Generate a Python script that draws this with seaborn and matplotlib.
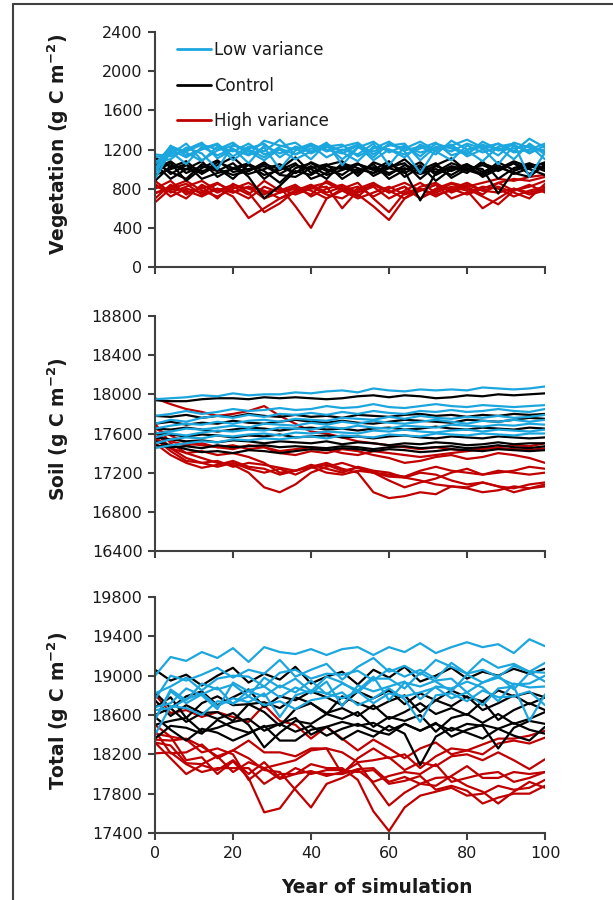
import numpy as np
import pandas as pd
import seaborn as sns
import matplotlib.pyplot as plt
from matplotlib.lines import Line2D

# years sampled every 4 years
years = list(range(0, 101, 4))

groups = ['Low variance', 'Control', 'High variance']
colors = {'Low variance': '#1CA6DE', 'Control': '#000000', 'High variance': '#C00000'}

# vegetation carbon (g C m-2), 8 runs per group
veg_low = [
    [1050,1230,1180,1250,1200,1270,1150,1290,1240,1200,1260,1180,1230,1270,1150,1250,1210,1280,1190,1240,1300,1220,1260,1180,1310,1220],
    [980,1200,1120,1210,1260,1130,1230,1180,1300,1150,1210,1240,1100,1220,1280,1170,1240,1130,1260,1210,1150,1280,1200,1250,1160,1240],
    [1120,1150,1260,1090,1190,1240,1200,1120,1230,1270,1160,1230,1190,1250,1120,1260,1190,1230,1150,1290,1200,1230,1140,1270,1220,1180],
    [900,1180,1050,1230,1140,1210,1060,1240,1160,1220,1100,1260,1170,1080,1230,1200,1120,1250,1180,1090,1240,1170,1220,1100,1260,1150],
    [1080,1100,1220,1160,1000,1250,1180,1090,1210,1150,1240,1120,1200,1150,1260,1040,1230,1170,1210,1250,1130,1200,1260,1170,1200,1260],
    [1000,1240,1140,1200,1250,1090,1210,1260,1120,1230,1180,1270,1040,1220,1180,1240,1260,1090,1230,1180,1260,1210,1050,1240,1180,1200],
    [1150,1130,1200,1270,1110,1200,1140,1220,1000,1190,1250,1200,1160,1240,1090,1200,1150,1210,1270,1140,1190,1080,1230,1260,920,1170],
    [950,1210,1170,1080,1230,1180,1260,1150,1200,1100,1180,1230,1250,1130,1210,1280,1180,960,1200,1230,1160,1250,1190,1210,1240,1100],
]
veg_control = [
    [1120,1020,1080,950,1040,1120,980,1050,1000,1120,960,1040,1080,930,1070,1010,1100,960,1040,1110,980,1060,1000,1080,1020,1060],
    [1050,900,1000,1080,920,1010,1060,900,1020,960,1070,1000,940,1050,990,1080,920,1020,970,1060,1010,950,1070,990,1040,980],
    [980,1060,880,1010,1090,970,1000,1030,950,1040,1000,900,1060,1010,960,1020,1060,900,1030,980,1050,920,1000,1060,950,1030],
    [1100,950,1040,980,1010,900,1050,980,860,1010,1060,980,1020,960,1050,900,990,1070,940,1020,960,1080,900,1010,1060,1000],
    [1000,1080,960,1030,980,1060,920,700,830,980,940,1030,1000,1060,930,1010,960,1040,880,1000,1050,970,1040,950,1010,1070],
    [940,1000,1050,900,960,1000,1040,940,990,1060,900,960,1040,980,1020,960,1010,950,1000,940,1030,1000,750,980,1040,1010],
    [1060,970,900,1050,1000,940,980,1070,940,920,1010,1050,900,1000,960,1050,980,680,960,1030,990,940,1020,960,920,1050],
    [880,1030,1000,960,1070,1010,950,1000,1050,960,1030,940,990,1050,1000,940,1040,990,1060,910,1000,1040,980,1060,1000,940],
]
veg_high = [
    [850,720,800,760,850,780,700,820,760,800,740,880,800,720,850,780,700,820,860,760,820,740,860,900,880,920],
    [800,880,740,820,700,850,760,560,650,780,820,740,700,800,860,760,820,700,780,850,800,720,640,780,840,760],
    [760,800,850,740,800,720,500,600,700,760,820,860,780,700,760,820,740,800,720,800,860,780,820,760,700,850],
    [880,760,820,880,780,840,800,740,820,620,400,700,780,820,720,800,860,780,840,700,760,820,800,720,780,820],
    [700,840,760,800,860,760,820,780,700,780,840,760,820,740,620,480,700,780,840,800,740,800,860,780,820,880],
    [820,780,700,840,760,820,740,880,780,840,720,800,840,760,820,700,780,860,760,820,780,600,700,800,760,800],
    [750,820,880,780,720,800,860,760,800,740,800,820,600,780,840,760,820,700,800,860,820,860,900,880,920,940],
    [660,800,780,720,800,760,820,700,760,820,780,700,800,860,700,560,760,800,740,780,840,780,760,800,740,780],
]

# soil carbon (g C m-2), same runs
soil_low = [
    [17950,17960,17970,17990,17980,18010,17990,18000,18000,18020,18010,18030,18040,18020,18060,18040,18030,18050,18040,18050,18040,18070,18060,18050,18060,18080],
    [17780,17800,17830,17800,17820,17850,17830,17840,17860,17840,17850,17880,17860,17870,17900,17870,17860,17880,17900,17880,17870,17890,17880,17870,17880,17890],
    [17700,17740,17720,17760,17780,17760,17790,17770,17800,17790,17810,17790,17820,17800,17830,17810,17800,17830,17820,17840,17820,17830,17850,17830,17820,17850],
    [17650,17680,17700,17690,17720,17700,17730,17740,17720,17750,17740,17730,17760,17750,17740,17770,17750,17780,17760,17750,17770,17760,17780,17760,17770,17790],
    [17600,17620,17650,17640,17660,17680,17660,17700,17690,17680,17710,17690,17720,17700,17730,17710,17700,17720,17740,17720,17700,17730,17720,17740,17720,17740],
    [17560,17600,17580,17610,17630,17620,17640,17630,17660,17650,17640,17670,17650,17680,17660,17650,17680,17670,17660,17690,17680,17670,17690,17680,17700,17690],
    [17500,17540,17560,17550,17580,17570,17590,17600,17580,17610,17600,17620,17610,17600,17630,17620,17640,17620,17610,17630,17640,17620,17640,17630,17620,17640],
    [17450,17480,17500,17520,17510,17540,17530,17550,17540,17560,17570,17550,17580,17570,17560,17590,17580,17570,17600,17590,17580,17600,17590,17580,17600,17600],
]
soil_control = [
    [17940,17930,17930,17950,17960,17960,17950,17970,17960,17970,17960,17950,17960,17980,17990,17970,17990,17980,17960,17970,17990,17980,18000,17990,18000,18010],
    [17780,17770,17790,17760,17780,17770,17800,17780,17770,17790,17770,17780,17760,17790,17780,17770,17790,17800,17780,17790,17770,17790,17780,17800,17790,17800],
    [17700,17720,17690,17710,17700,17730,17710,17700,17720,17740,17720,17710,17730,17710,17700,17720,17740,17730,17720,17710,17740,17730,17720,17740,17760,17750],
    [17650,17640,17660,17640,17620,17640,17660,17650,17630,17650,17660,17640,17650,17630,17650,17660,17640,17650,17670,17650,17640,17660,17650,17640,17660,17650],
    [17600,17590,17570,17590,17580,17560,17580,17570,17590,17560,17570,17580,17560,17570,17550,17570,17580,17560,17550,17570,17560,17550,17570,17560,17550,17560],
    [17560,17540,17520,17530,17510,17530,17520,17500,17520,17510,17500,17520,17490,17510,17500,17480,17500,17490,17510,17500,17480,17490,17510,17490,17500,17500],
    [17520,17480,17440,17410,17420,17400,17430,17420,17400,17420,17440,17430,17450,17440,17420,17440,17430,17410,17420,17440,17430,17420,17440,17430,17420,17430],
    [17480,17460,17470,17450,17480,17460,17470,17480,17460,17470,17460,17450,17470,17460,17440,17460,17470,17450,17460,17470,17450,17460,17480,17460,17450,17470],
]
soil_high = [
    [17960,17900,17850,17820,17780,17800,17830,17880,17780,17700,17620,17600,17560,17520,17500,17480,17460,17440,17460,17440,17420,17460,17450,17440,17430,17450],
    [17700,17500,17400,17350,17300,17280,17200,17050,17000,17080,17200,17260,17300,17250,17200,17160,17150,17200,17180,17120,17080,17100,17060,17040,17080,17100],
    [17650,17580,17500,17480,17460,17480,17440,17460,17400,17380,17420,17400,17440,17420,17380,17350,17300,17320,17360,17380,17340,17360,17400,17380,17350,17300],
    [17560,17450,17400,17420,17380,17400,17360,17300,17200,17220,17260,17200,17180,17220,17200,17180,17160,17220,17260,17220,17200,17180,17220,17200,17180,17200],
    [17620,17450,17350,17300,17320,17260,17300,17280,17250,17220,17260,17300,17240,17200,17000,16940,16960,17000,16980,17060,17040,17000,17020,17060,17040,17060],
    [17500,17380,17300,17250,17280,17320,17260,17240,17180,17220,17280,17240,17200,17260,17220,17200,17150,17120,17080,17060,17050,17100,17060,17000,17040,17080],
    [17600,17520,17480,17500,17460,17440,17480,17460,17420,17440,17460,17440,17400,17380,17420,17400,17380,17360,17380,17400,17420,17440,17460,17480,17470,17500],
    [17550,17420,17320,17300,17260,17300,17240,17200,17240,17180,17250,17280,17220,17250,17200,17120,17050,17100,17140,17200,17240,17180,17200,17220,17260,17240],
]

veg_runs = {'Low variance': veg_low, 'Control': veg_control, 'High variance': veg_high}
soil_runs = {'Low variance': soil_low, 'Control': soil_control, 'High variance': soil_high}

rows = []
for g in groups:
    for i, (v, s) in enumerate(zip(veg_runs[g], soil_runs[g])):
        for yr, vv, ss in zip(years, v, s):
            rows.append({'year': yr, 'group': g, 'run': f'{g}-{i}',
                         'veg': vv, 'soil': ss, 'total': vv + ss})
df = pd.DataFrame(rows)

sns.set_style('ticks')
plt.rcParams['font.family'] = ['DejaVu Sans']
plt.rcParams['text.color'] = '#1a1a1a'
plt.rcParams['axes.labelcolor'] = '#1a1a1a'
plt.rcParams['xtick.labelcolor'] = '#1a1a1a'
plt.rcParams['ytick.labelcolor'] = '#1a1a1a'

fig = plt.figure(figsize=(6.13, 9.0), dpi=100)
W, H = 613, 900

def axes_px(left, top, right, bottom):
    return fig.add_axes([left / W, 1 - bottom / H, (right - left) / W, (bottom - top) / H])

ax1 = axes_px(155, 32, 545, 267)
ax2 = axes_px(155, 316, 545, 551)
ax3 = axes_px(155, 597, 545, 833)

panels = [
    (ax1, 'veg', 'Vegetation (g C m$^{\\mathbf{-2}}$)', 0, 2400),
    (ax2, 'soil', 'Soil (g C m$^{\\mathbf{-2}}$)', 16400, 18800),
    (ax3, 'total', 'Total (g C m$^{\\mathbf{-2}}$)', 17400, 19800),
]

draw_order = ['High variance', 'Control', 'Low variance']
for ax, col, lab, lo, hi in panels:
    sns.lineplot(data=df, x='year', y=col, hue='group', hue_order=draw_order,
                 palette=colors, units='run', estimator=None, lw=1.6,
                 legend=(ax is ax1), ax=ax)
    ax.set_xlim(0, 100)
    ax.set_ylim(lo, hi)
    ax.set_xticks(range(0, 101, 20))
    ax.set_yticks(range(lo, hi + 1, 400))
    ax.set_ylabel(lab, fontsize=13.5, fontweight='bold')
    ax.yaxis.set_label_coords(-0.215, 0.52)
    ax.set_xlabel('')
    sns.despine(ax=ax)
    for sp in ['left', 'bottom']:
        ax.spines[sp].set_color('#404040')
        ax.spines[sp].set_linewidth(1.5)
    ax.tick_params(direction='out', length=5, width=1.5, color='#404040',
                   labelsize=11.5, pad=4)
    if ax is not ax3:
        ax.tick_params(axis='x', labelbottom=False)

ax3.set_xlabel('Year of simulation', fontsize=13.5, fontweight='bold')
ax3.xaxis.set_label_coords(0.57, -0.19)

handles, labels = ax1.get_legend_handles_labels()
ax1.legend(handles[::-1], labels[::-1], loc='upper left', bbox_to_anchor=(0.04, 0.99),
           frameon=False, fontsize=12, handlelength=2.0, handletextpad=0.2,
           labelspacing=1.05, borderaxespad=0)
for h in ax1.get_legend().get_lines():
    h.set_linewidth(2.0)

# outer frame (left and top edges visible)
fig.add_artist(Line2D([13 / W, 13 / W], [0, 1 - 4 / H], color='#404040', lw=1.5))
fig.add_artist(Line2D([13 / W, 1], [1 - 4 / H, 1 - 4 / H], color='#404040', lw=1.5))

fig.savefig('out.png', dpi=100)
